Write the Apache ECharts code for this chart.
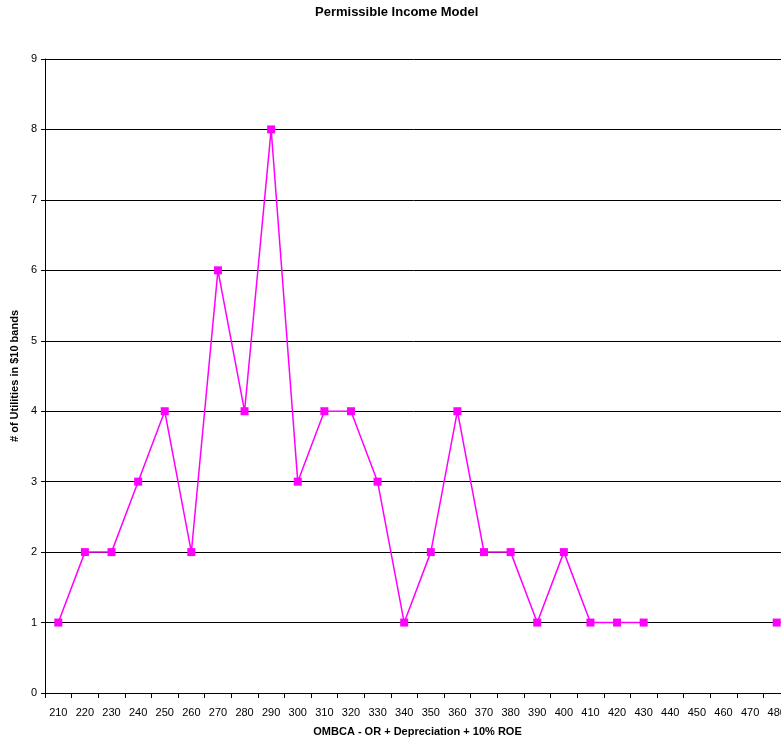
<!DOCTYPE html>
<html>
<head>
<meta charset="utf-8">
<script src="https://cdn.jsdelivr.net/npm/echarts@6/dist/echarts.min.js"></script>
<style>html,body{margin:0;padding:0;background:#fff;}#c{width:781px;height:740px;}</style>
</head>
<body>
<div id="c"></div>
<script>
const categories = ['210','220','230','240','250','260','270','280','290','300','310','320','330','340','350','360','370','380','390','400','410','420','430','440','450','460','470','480'];
const counts = [1,2,2,3,4,2,6,4,8,3,4,4,3,1,2,4,2,2,1,2,1,1,1,null,null,null,null,1];
const yTicks = {min:0, max:9, interval:1};

const chart = echarts.init(document.getElementById('c'), null, {renderer:'canvas'});
const font = 'Liberation Sans, Arial, sans-serif';
chart.setOption({
  animation:false,
  backgroundColor:'#fff',
  title:{
    text:'Permissible Income Model',
    left:315, top:6, padding:0,
    textStyle:{fontFamily:font, fontSize:13, fontWeight:'bold', color:'#000'}
  },
  grid:{left:45, top:59, width:745, height:634, containLabel:false, outerBoundsMode:'none'},
  xAxis:{
    type:'category',
    data:categories,
    boundaryGap:true,
    name:'OMBCA - OR + Depreciation + 10% ROE',
    nameLocation:'middle',
    nameGap:33,
    nameTextStyle:{fontFamily:font, fontSize:11, fontWeight:'bold', color:'#000'},
    axisLine:{lineStyle:{color:'#000', width:1}},
    axisTick:{show:true, length:5, alignWithLabel:false, lineStyle:{color:'#000'}},
    axisLabel:{fontFamily:font, fontSize:11, color:'#000', margin:14, interval:0, hideOverlap:false},
    splitLine:{show:false}
  },
  yAxis:{
    type:'value',
    min:yTicks.min, max:yTicks.max, interval:yTicks.interval,
    name:'# of Utilities in $10 bands',
    nameLocation:'middle',
    nameGap:22,
    nameRotate:90,
    nameTextStyle:{fontFamily:font, fontSize:11, fontWeight:'bold', color:'#000'},
    axisLine:{show:true, lineStyle:{color:'#000', width:1}},
    axisTick:{show:true, length:4, lineStyle:{color:'#000'}},
    axisLabel:{fontFamily:font, fontSize:11, color:'#000', margin:8},
    splitLine:{show:true, lineStyle:{color:'#000', width:1}}
  },
  series:[{
    type:'line',
    data:counts,
    connectNulls:false,
    symbol:'rect',
    symbolSize:8,
    itemStyle:{color:'#FF00FF'},
    lineStyle:{color:'#FF00FF', width:1.5},
    clip:false
  }]
});
</script>
</body>
</html>
